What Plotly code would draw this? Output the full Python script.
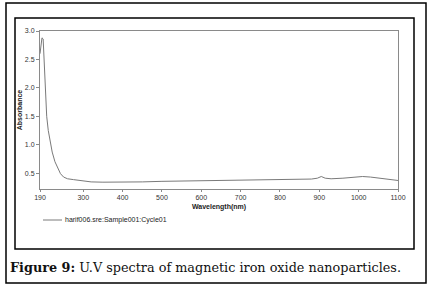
import plotly.graph_objects as go

# ---- data ----
wavelength = [190, 192, 195, 198, 201, 203, 207, 211, 215, 221, 228, 235, 242, 250,
              260, 275, 300, 320, 350, 400, 450, 500, 550, 600, 650, 700, 750, 800,
              850, 880, 895, 905, 915, 930, 960, 990, 1010, 1030, 1050, 1070, 1090, 1100]
absorbance = [2.60, 2.75, 2.88, 2.86, 2.40, 2.00, 1.50, 1.25, 1.08, 0.87, 0.70, 0.58, 0.49, 0.43,
              0.40, 0.385, 0.36, 0.345, 0.34, 0.34, 0.345, 0.355, 0.36, 0.365, 0.37, 0.375, 0.38, 0.385,
              0.39, 0.395, 0.41, 0.44, 0.41, 0.40, 0.41, 0.43, 0.44, 0.43, 0.41, 0.39, 0.38, 0.37]
series_name = "harif006.sre:Sample001:Cycle01"
x_ticks = [190, 300, 400, 500, 600, 700, 800, 900, 1000, 1100]
y_ticks = [0.5, 1.0, 1.5, 2.0, 2.5, 3.0]
caption_bold = "Figure 9:"
caption_text = "U.V spectra of magnetic iron oxide nanoparticles."

# ---- layout geometry (pixels) ----
W, H = 430, 288
PL, PT, PR, PB = 40, 31, 398, 189
LINE_COLOR = "#7a7a7a"


def px(x):
    return (x - PL) / (PR - PL)


def py(y):
    return (PB - y) / (PB - PT)


fig = go.Figure()
fig.add_trace(go.Scatter(x=wavelength, y=absorbance, mode="lines", name=series_name,
                         line=dict(color=LINE_COLOR, width=1), showlegend=False))

sans = "Liberation Sans, Arial, sans-serif"
axis_font = dict(family=sans, size=7, color="#333333")

fig.update_layout(
    width=W, height=H,
    margin=dict(l=PL, r=W - PR, t=PT, b=H - PB, pad=0, autoexpand=False),
    paper_bgcolor="white", plot_bgcolor="white",
    xaxis=dict(range=[190, 1100], tickvals=x_ticks, ticktext=[str(v) for v in x_ticks],
               showgrid=False, zeroline=False, showline=True, linecolor="#8a8a8a", linewidth=1,
               mirror=True, ticks="outside", ticklen=2, tickcolor="#8a8a8a",
               tickfont=axis_font, automargin=False,
               title=dict(text="<b>Wavelength(nm)</b>", font=dict(family=sans, size=7, color="#222"),
                          standoff=3)),
    yaxis=dict(range=[0.22, 3.0], tickvals=y_ticks, ticktext=[f"{v:.1f}" for v in y_ticks],
               showgrid=False, zeroline=False, showline=True, linecolor="#8a8a8a", linewidth=1,
               mirror=True, ticks="outside", ticklen=3, tickcolor="#8a8a8a",
               tickfont=axis_font, automargin=False,
               title=dict(text="<b>Absorbance</b>", font=dict(family=sans, size=7, color="#222"),
                          standoff=1)),
    showlegend=False,
)

# frames
fig.add_shape(type="rect", xref="paper", yref="paper",
              x0=px(6), x1=px(426), y0=py(283), y1=py(3),
              line=dict(color="black", width=1.5), fillcolor="rgba(0,0,0,0)", layer="below")
fig.add_shape(type="rect", xref="paper", yref="paper",
              x0=px(15), x1=px(414), y0=py(249), y1=py(18),
              line=dict(color="black", width=1.5), fillcolor="rgba(0,0,0,0)", layer="below")

# legend (drawn as in the original: short line + label)
fig.add_shape(type="line", xref="paper", yref="paper",
              x0=px(43), x1=px(62), y0=py(220), y1=py(220),
              line=dict(color=LINE_COLOR, width=1))
fig.add_annotation(xref="paper", yref="paper", x=px(63), y=py(220), xanchor="left", yanchor="middle",
                   showarrow=False, text=series_name,
                   font=dict(family=sans, size=7, color="#222"))

# caption
fig.add_annotation(xref="paper", yref="paper", x=px(8), y=py(267), xanchor="left", yanchor="middle",
                   showarrow=False,
                   text=f"<b>{caption_bold}</b> {caption_text}",
                   font=dict(family="DejaVu Serif, serif", size=12.8, color="#111"))

fig.write_html("out.html", config={"displayModeBar": False},
               post_script="document.body.style.margin='0';")
